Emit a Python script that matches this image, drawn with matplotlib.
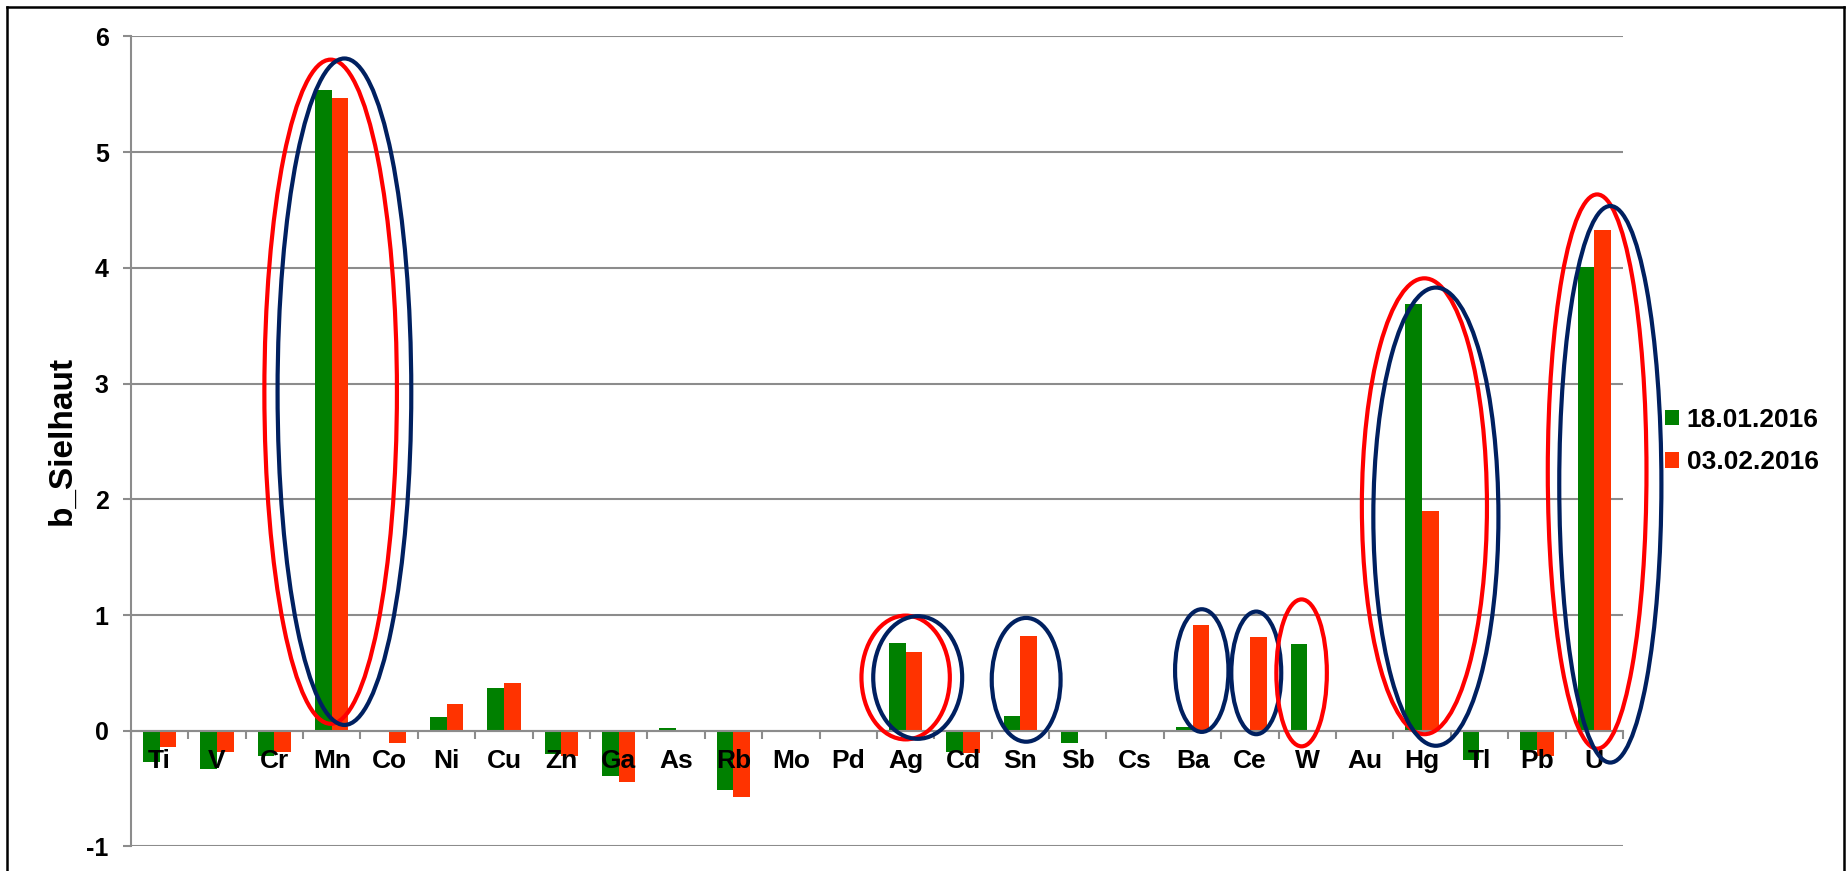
import matplotlib
matplotlib.use('Agg')
import matplotlib.pyplot as plt
from matplotlib.patches import Ellipse
from matplotlib.lines import Line2D
import numpy as np

plt.rcParams['font.family'] = ['Liberation Sans', 'DejaVu Sans']
plt.rcParams['font.weight'] = 'bold'
plt.rcParams['axes.unicode_minus'] = False

elements = ['Ti', 'V', 'Cr', 'Mn', 'Co', 'Ni', 'Cu', 'Zn', 'Ga', 'As', 'Rb', 'Mo', 'Pd',
            'Ag', 'Cd', 'Sn', 'Sb', 'Cs', 'Ba', 'Ce', 'W', 'Au', 'Hg', 'Tl', 'Pb', 'U']
b_jan = [-0.27, -0.33, -0.22, 5.54, 0.005, 0.12, 0.37, -0.20, -0.39, 0.02, -0.51, 0, 0,
         0.76, -0.18, 0.13, -0.11, 0, 0.035, 0.005, 0.75, 0, 3.69, -0.25, -0.17, 4.01]
b_feb = [-0.14, -0.18, -0.18, 5.47, -0.11, 0.23, 0.41, -0.22, -0.44, 0, -0.57, 0, 0,
         0.68, -0.19, 0.82, 0, 0, 0.91, 0.81, 0, 0, 1.90, 0, -0.22, 4.33]
series_labels = ['18.01.2016', '03.02.2016']

# hervorgehobene Elemente: (x-Mitte, y-Mitte, Breite, Höhe, Farbe)
highlights = [
    (2.98, 2.93, 2.31, 5.74, '#FF0000'),
    (3.22, 2.93, 2.33, 5.76, '#002060'),
    (13.0, 0.46, 1.54, 1.07, '#FF0000'),
    (13.21, 0.46, 1.55, 1.06, '#002060'),
    (15.1, 0.44, 1.2, 1.07, '#002060'),
    (18.16, 0.52, 0.93, 1.06, '#002060'),
    (19.11, 0.50, 0.87, 1.06, '#002060'),
    (19.9, 0.50, 0.88, 1.27, '#FF0000'),
    (22.04, 1.94, 2.18, 3.94, '#FF0000'),
    (22.24, 1.85, 2.18, 3.96, '#002060'),
    (25.05, 2.24, 1.72, 4.79, '#FF0000'),
    (25.28, 2.13, 1.78, 4.81, '#002060'),
]

fig = plt.figure(figsize=(18.47, 8.71), dpi=100)
ax = fig.add_axes([0.0709, 0.0282, 0.8078, 0.9299])

x = np.arange(len(elements))
w = 0.29
b1 = ax.bar(x - w / 2, b_jan, w, color='#008000', zorder=1, label=series_labels[0])
b2 = ax.bar(x + w / 2, b_feb, w, color='#FF3300', zorder=1, label=series_labels[1])

for cx, cy, ew, eh, col in highlights:
    ax.add_patch(Ellipse((cx, cy), ew, eh, fill=False, edgecolor=col, lw=3,
                         zorder=4, clip_on=False))

ax.set_xlim(-0.5, len(elements) - 0.5)
ax.set_ylim(-1, 6)
ax.set_yticks(range(-1, 7))

grey = '#8c8c8c'
ax.yaxis.grid(True, color=grey, lw=1.5)
ax.yaxis.set_zorder(0.5)
ax.xaxis.set_zorder(3)

for s in ['top', 'right']:
    ax.spines[s].set_visible(False)
ax.spines['left'].set_color(grey)
ax.spines['left'].set_linewidth(1.5)
ax.spines['bottom'].set_position(('data', 0))
ax.spines['bottom'].set_color(grey)
ax.spines['bottom'].set_linewidth(1.5)

ax.set_xticks(x)
ax.set_xticklabels(elements, fontsize=19, fontweight='bold')
ax.set_xticks(np.arange(-0.5, len(elements)), minor=True)
ax.tick_params(axis='x', which='major', length=0, pad=13)
ax.tick_params(axis='x', which='minor', length=6, width=1.5, color=grey, direction='out')
ax.tick_params(axis='y', length=6, width=1.5, color=grey, pad=10, labelsize=18)
for lab in ax.get_yticklabels():
    lab.set_fontweight('bold')

ax.set_ylabel('b_Sielhaut', fontsize=24, fontweight='bold')
ax.yaxis.set_label_coords(-0.036, 0.5018)

fig.legend(handles=[b1, b2], loc='center left', bbox_to_anchor=(1665 / 1847, 0.4937),
           frameon=False, handlelength=0.52, handleheight=0.52,
           handletextpad=0.3, labelspacing=0.7, borderpad=0, borderaxespad=0,
           prop={'weight': 'bold', 'size': 19})

# Rahmen um das Diagramm
for xs, ys in [([0.004, 0.004], [0, 0.9925]), ([0.004, 0.9985], [0.9925, 0.9925]),
               ([0.9985, 0.9985], [0, 0.9925])]:
    fig.add_artist(Line2D(xs, ys, color='black', lw=1.8, transform=fig.transFigure))

fig.savefig('out.png', dpi=100)
